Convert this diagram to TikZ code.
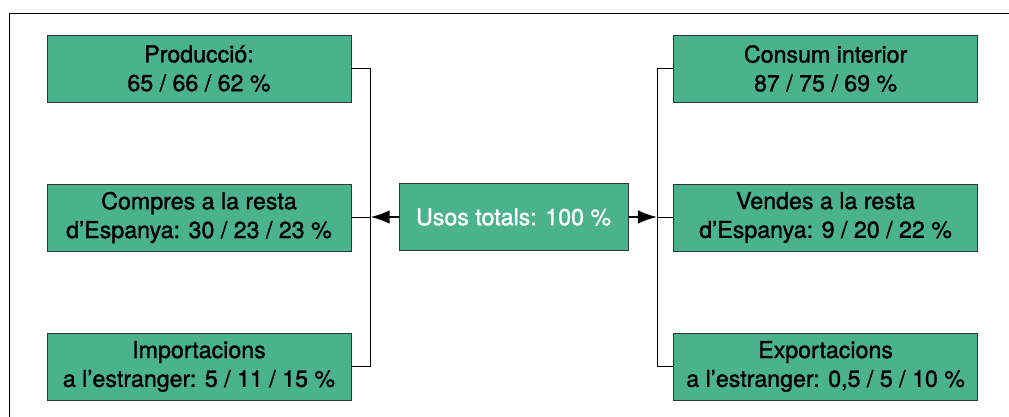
\documentclass[tikz,border=0pt]{standalone}
\usepackage{fontspec}
\setmainfont{TeX Gyre Heros}[BoldFont={TeX Gyre Heros},BoldFeatures={FakeBold=1.3}]
\usepackage{xcolor}
\usetikzlibrary{calc, positioning, arrows.meta}
\definecolor{boxgreen}{RGB}{75,178,142}

\begin{document}
\begin{tikzpicture}[-,node distance=3.725cm,line width=0.7pt,
                    main node/.style={rectangle,draw=black!80,fill=boxgreen,align=center,
                      minimum width=7.6cm,minimum height=1.675cm,inner sep=0pt,
                      font=\fontsize{16.5}{20.5}\selectfont\bfseries},
                    total node/.style={main node,minimum width=5.725cm,text=white},
                    flow/.style={line width=1.4pt,-{Latex[length=4.8mm,width=3.4mm]}}]

  \useasboundingbox (0,0) rectangle (25.225,-10.425);
  \draw (25.225,-0.325) -- (0.225,-0.325) -- (0.225,-10.425);

  \node[main node] (prod) at (4.975,-1.7125) {Producció:\\65 / 66 / 62 \%};
  \node[main node] (comp) [below of=prod] {Compres a la resta\\d’Espanya: 30 / 23 / 23 \%};
  \node[main node] (imp) [below of=comp] {Importacions\\a l’estranger: 5 / 11 / 15 \%};

  \node[total node] (total) at (12.84,-5.425) {Usos totals: 100 \%};

  \node[main node] (cons) at (20.64,-1.7125) {Consum interior\\87 / 75 / 69 \%};
  \node[main node] (vend) [below of=cons] {Vendes a la resta\\d’Espanya: 9 / 20 / 22 \%};
  \node[main node] (exp) [below of=vend] {Exportacions\\a l’estranger: 0,5 / 5 / 10 \%};

  \coordinate (lbar) at ($(comp.east)+(0.475,0)$);
  \coordinate (rbar) at ($(vend.west)-(0.4,0)$);

  \draw (prod.east) -| (lbar) |- (imp.east);
  \draw (comp.east) -- (lbar);
  \draw (cons.west) -| (rbar) |- (exp.west);
  \draw (vend.west) -- (rbar);

  \draw[flow] (total.west) -- (total.west -| lbar);
  \draw[flow] (total.east) -- (total.east -| rbar);
\end{tikzpicture}
\end{document}
